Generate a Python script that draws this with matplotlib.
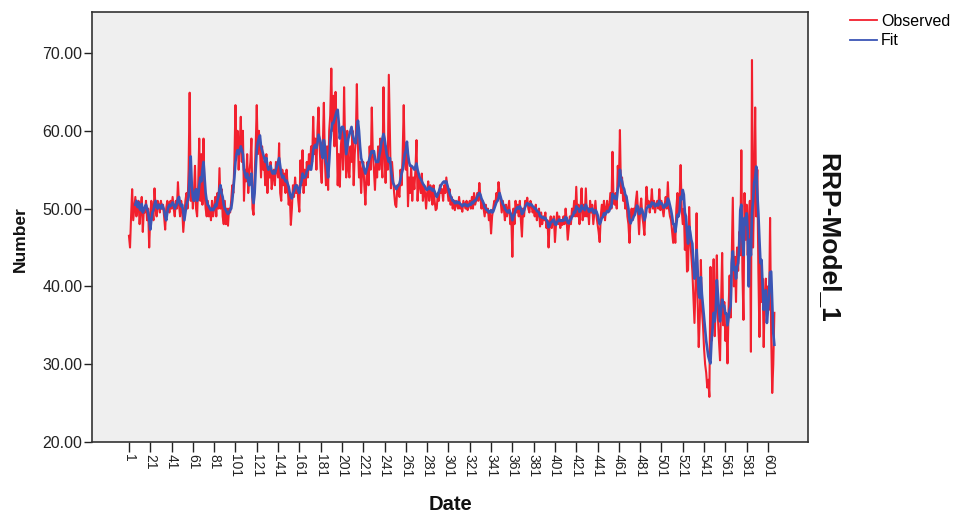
import numpy as np
import matplotlib
matplotlib.use("Agg")
import matplotlib.pyplot as plt
from matplotlib.ticker import FormatStrFormatter

plt.rcParams['font.family'] = ['Liberation Sans', 'DejaVu Sans']

observed = [
    46.5, 45, 49, 52.5, 48.5, 50, 51.5, 49, 50.5, 51, 48, 50, 51.5, 47, 50, 49.5, 51, 48.5, 50, 45,
    49, 51, 50, 48.5, 52.6, 50, 49, 51, 50.5, 49.5, 51, 50, 50.5, 49, 47.3, 50, 51, 50.5, 49.5, 51,
    50, 51.5, 50, 49, 51, 50, 53.4, 50.5, 49, 51, 50, 47, 49, 51, 52, 50, 55, 64.9, 51, 53,
    50, 52, 55.5, 50, 49, 53, 59, 51, 57, 50.5, 59, 52, 50, 49, 51, 49, 50, 48.5, 51, 49,
    50, 51.5, 49, 52, 50, 55.2, 50, 52.5, 49, 48, 51, 48, 50, 47.8, 50, 49.5, 51, 53, 52, 56,
    63.3, 57, 60, 55, 58, 61.8, 56, 60, 51, 55, 53.5, 57, 52, 54.6, 56, 59, 50, 49.2, 54, 58,
    63.3, 57, 60, 58, 54, 58, 55, 56, 53, 57, 52, 55, 54, 56, 52.5, 54, 55, 53, 56, 55,
    54, 58.4, 52, 51, 55, 53, 54.5, 52, 55, 53, 50.5, 52, 47.9, 50, 53, 51.5, 54, 52, 53, 51,
    49.6, 56.2, 53, 57.5, 52, 55, 53, 56, 54, 57, 55, 58, 56, 61.8, 57, 59, 55, 60, 63, 58,
    55, 53.3, 58, 63.6, 56, 53, 58, 52.4, 60, 62, 68, 60, 64.5, 58, 65, 60, 53, 57, 52.8, 58,
    60, 55, 65.6, 58, 54, 60, 55, 54, 58, 56, 60, 53, 57, 59, 66, 58, 54, 56, 52, 55,
    56, 53, 50.5, 54, 56, 53, 58, 55, 63, 57, 55, 52.4, 56, 54, 58, 55, 59, 56, 54, 65.6,
    57, 53.3, 58, 55, 67.2, 60, 52.6, 56, 54, 52, 50.5, 50.2, 53, 52, 51.5, 55, 53, 57, 63.3, 56,
    55, 58, 50.3, 54, 52, 55.5, 51, 54, 52.5, 55, 58.8, 51, 54, 53, 52, 54.5, 51, 53, 52, 50,
    52, 53.5, 51, 53, 52, 50.5, 53, 51, 49.8, 50, 52, 51, 53, 52, 52.5, 51, 53, 52, 54, 52.5,
    51, 52.5, 50.5, 51.5, 50, 51, 49.8, 51, 50.5, 50, 51.5, 50, 50.5, 49.6, 51, 50.5, 50, 51, 49.8, 50.5,
    51, 50, 51.5, 50, 52, 50.5, 51, 52, 51, 53.3, 51.5, 50, 51, 50, 49, 50.5, 49.5, 50, 48.5, 49.5,
    46.8, 49, 50, 51, 50.5, 52, 51, 53.4, 52, 51, 49.5, 51, 50, 48.5, 50.5, 49, 50, 51, 48, 49,
    43.8, 50, 48, 51, 49.5, 50.5, 49, 51, 48.5, 46.4, 50, 49, 51, 50.5, 51.4, 50, 49.5, 51, 50.5, 49.5,
    50, 49, 50.5, 48.5, 49.5, 50, 47.7, 49.5, 48, 49, 48.5, 49.5, 47.5, 48.5, 45, 48, 49, 47.5, 48.5, 49,
    45.7, 48, 49.5, 48, 49, 47.5, 48.5, 47.9, 49, 48, 50, 48.5, 46, 47.5, 49, 48, 50, 49, 51, 49,
    52.8, 49, 50.5, 48, 50, 52.6, 48.5, 50.5, 49, 52.6, 49, 50, 48, 51, 49.5, 50.5, 48, 49.5, 51, 49,
    48, 47, 45.7, 49, 50.5, 49, 51, 48.5, 50, 51, 49.5, 50, 52, 50, 57.3, 51, 50.5, 52, 50, 55.5,
    53, 60.1, 52, 54, 51, 52, 50, 51.5, 49, 48, 45.6, 49, 50, 48.5, 50, 49.5, 51, 52.2, 49.5, 46.7,
    50, 51.3, 49, 48, 46.6, 50, 52.8, 50.5, 51, 49.5, 50.5, 52.5, 50, 51, 49.5, 50.5, 51, 50, 52.5, 49.8,
    51, 50, 49, 50.5, 51.5, 50, 53.4, 50, 49, 48.5, 47, 45.6, 48, 45.6, 50, 52, 49, 51, 55.6, 50,
    48, 50, 44.7, 48, 41.9, 42.1, 50.2, 46, 44, 42, 38.6, 35.3, 40, 49.4, 38, 32.2, 36, 43.4, 37, 35,
    32, 30, 28.9, 27, 28, 25.8, 42.5, 33, 37, 43.5, 33.6, 38, 44, 36, 33, 30.5, 38, 44.3, 35, 38,
    33, 35, 30.1, 37, 41.4, 36, 44, 51.4, 40, 43.8, 38, 45, 42, 47, 44, 57.5, 42, 35.7, 52, 46,
    50.5, 44, 48, 51, 31.6, 69.1, 45, 52, 63, 49, 55, 42, 33.5, 43, 38, 41, 32.2, 39, 41, 35.5,
    40, 37, 48.8, 34, 26.3, 30, 36.6,
]

fit = [
    np.nan, np.nan, np.nan, np.nan, np.nan, np.nan, 50.5, 51, 50.2, 50.8, 50, 49.8, 50.6, 49.5, 49.8, 50.2, 50.5, 50, 49.5, 48.5,
    47.3, 48.5, 49.5, 49.8, 50.5, 51, 50.2, 50, 50.5, 50.3, 50, 50.5, 50.2, 49.8, 49, 48.5, 49.5, 50.2, 50.5, 50.3,
    50.5, 50.8, 50.5, 50, 50.3, 50.6, 51.2, 51.5, 50.6, 50.3, 50.5, 49.5, 48.5, 49.5, 50.5, 51, 51.5, 54, 56.7, 53,
    51.5, 51, 52, 52.5, 51, 51.5, 53, 54, 53.5, 55, 56, 54, 52, 51, 50.5, 50.3, 50, 49.8, 50, 49.8,
    50, 50.5, 50.3, 51, 51.5, 52.5, 53, 52, 51.5, 50.5, 50, 49.8, 49.5, 49.3, 49.5, 49.8, 50, 51, 52.5, 54,
    56, 57, 57.5, 57, 57.5, 58, 57.5, 57, 55, 54.5, 54, 54.5, 53.5, 53, 54, 54.5, 51.5, 50.7, 52, 55,
    57.6, 58.5, 59, 59.4, 58, 57.5, 57, 56.5, 56, 56.5, 55.5, 55, 55.2, 55.5, 54.8, 54.5, 54.8, 54.5, 55, 55.5,
    56, 56.5, 55.5, 54.5, 54, 54.2, 53.8, 53.5, 53.6, 53.2, 52.8, 52, 51.5, 51.3, 52, 52.3, 52.8, 53, 52.8, 52.3,
    52, 53, 53.5, 54.5, 54, 54, 54.2, 54.8, 55, 55.5, 55.2, 55, 56, 57.5, 58, 58.2, 57.8, 58.4, 59.5, 59,
    58.5, 57, 56.5, 58.8, 58, 56, 55.5, 54, 56, 58.5, 60, 61, 61, 61.5, 62, 62.5, 62.7, 61, 59, 60,
    60.5, 60.5, 60, 59, 57, 58, 59, 59.5, 60, 60.5, 59.5, 59, 58.5, 58.4, 60, 61.3, 60, 58, 56.5, 56,
    55.5, 55, 54.5, 55, 55.5, 56, 56.5, 57, 57.4, 57.2, 57.4, 56.5, 56, 56, 56, 56.8, 57.5, 58.5, 59, 59.6,
    59, 58, 57, 56.5, 56, 56.5, 55, 54, 53.3, 53, 52.8, 52.5, 52.8, 53, 53.2, 53.8, 54.5, 55, 56, 57,
    57.5, 58.6, 57, 56, 55.5, 55.5, 55.4, 55.2, 55, 55.4, 55.8, 55, 54.5, 54, 53.8, 53.5, 53.2, 53, 52.8, 52.5,
    52.4, 52.6, 52.8, 52.5, 52.6, 52.3, 52.5, 52.2, 51.8, 51.5, 51.8, 52.2, 52.6, 53, 53.2, 53.4, 53.5, 53.3, 53.5, 53,
    52.5, 52, 51.6, 51.3, 51, 51, 50.7, 50.7, 50.9, 50.7, 50.8, 50.6, 50.5, 50.3, 50.5, 50.6, 50.4, 50.5, 50.3, 50.4,
    50.6, 50.5, 50.8, 50.7, 51, 51, 51.2, 51.5, 51.8, 52, 51.8, 51.3, 51, 50.7, 50.2, 50, 49.8, 49.8, 49.5, 49.6,
    49.8, 49.5, 49.6, 50, 50.4, 50.8, 51, 51.3, 52, 51.5, 51, 50.6, 50.4, 50, 49.8, 49.6, 49.5, 49.8, 49.5, 49.2,
    48.5, 49, 49.3, 49.8, 50, 50.2, 50, 50.3, 50, 49.3, 49.5, 49.8, 50.2, 50.5, 50.7, 50.6, 50.4, 50.6, 50.5, 50.3,
    50.2, 50, 50, 49.7, 49.6, 49.5, 49, 49, 48.8, 48.9, 48.7, 48.8, 48.5, 48.3, 47.6, 47.8, 48.2, 48.3, 48.5, 48.6,
    48, 47.9, 48.3, 48.4, 48.6, 48.4, 48.5, 48.4, 48.6, 48.5, 48.9, 48.8, 48.2, 48.1, 48.5, 48.6, 49, 49.1, 49.6, 49.5,
    50.3, 50, 50, 49.6, 49.7, 50.4, 50, 50, 49.8, 50.5, 50.1, 50, 49.6, 49.9, 49.8, 50, 49.5, 49.4, 49.8, 49.6,
    49.2, 48.6, 48, 48.3, 48.8, 48.9, 49.4, 49.2, 49.4, 49.7, 49.6, 49.7, 50.2, 50.2, 51.9, 51.7, 51.3, 51.6, 51.2, 52.5,
    53, 55, 54, 53.5, 52.8, 52.5, 51.8, 51.6, 50.8, 50, 48.6, 48.1, 48.5, 48.6, 49, 49.2, 49.7, 50.4, 50.2, 49.3,
    49.4, 50, 49.8, 49.2, 48.5, 49, 50, 50.2, 50.4, 50.2, 50.3, 50.8, 50.6, 50.7, 50.3, 50.4, 50.6, 50.4, 51, 50.6,
    50.7, 50.5, 50.1, 50.2, 50.6, 50.4, 51.3, 51, 50.4, 49.8, 49, 48, 48, 47, 48, 49.2, 49, 49.6, 51.5, 51.2,
    52.4, 51.8, 49.5, 49, 47, 45.5, 47.7, 47, 46, 45.5, 43, 41, 41.5, 44.7, 42, 39, 38.5, 41.2, 39, 37.5,
    36, 34.4, 33, 32, 31, 30.5, 30.1, 33, 34.5, 36.6, 35.5, 37, 40.8, 39, 37, 35.5, 37, 38.3, 37.5, 37.5,
    36.5, 36.5, 35, 36, 37, 37.5, 43, 44.5, 42.1, 42.5, 41, 42.5, 43, 45, 49.8, 50.5, 46, 44, 48.8, 48,
    49.4, 47, 40, 46, 44, 49.4, 51, 53.3, 54, 55.4, 52, 49.4, 46, 43, 43.4, 40, 37, 37.7, 39.5, 35.3,
    37, 39, 41.8, 41.9, 38, 34, 32.5,
]

x_ticks = list(range(1, 602, 20))
x_tick_labels = [str(v) for v in x_ticks]
y_ticks = [20, 30, 40, 50, 60, 70]

W, H = 954, 516
fig = plt.figure(figsize=(W / 100, H / 100), dpi=100)
fig.patch.set_facecolor('white')
ax = fig.add_axes([92 / W, 1 - 442 / H, (808 - 92) / W, (442 - 12) / H])
ax.set_facecolor('#EFEFEF')

t_obs = np.arange(1, len(observed) + 1)
t_fit = np.arange(1, len(fit) + 1)
ax.plot(t_obs, observed, color='#F2202E', lw=1.5, label='Observed', zorder=2)
ax.plot(t_fit, fit, color='#3B55B5', lw=1.9, label='Fit', zorder=3)

ax.set_xlim(-33.7, 638.6)
ax.set_ylim(20, 75.27)
ax.set_xticks(x_ticks)
ax.set_xticklabels(x_tick_labels, rotation=-90, fontsize=10, color='#222222')
ax.set_yticks(y_ticks)
ax.yaxis.set_major_formatter(FormatStrFormatter('%.2f'))
ax.tick_params(axis='y', labelsize=11.5, colors='#222222', length=6, width=1, direction='out', pad=1)
ax.tick_params(axis='x', length=7, width=1, direction='out', pad=2, colors='#222222')

for s in ax.spines.values():
    s.set_color('#333333')
    s.set_linewidth(1.2)

fig.text(20 / W, 1 - 239 / H, 'Number', rotation=90, ha='center', va='center',
         fontsize=12.5, fontweight='bold', color='#111111')
fig.text(451 / W, 1 - 504 / H, 'Date', ha='center', va='center',
         fontsize=14.5, fontweight='bold', color='#111111')
fig.text(828 / W, 1 - 238 / H, 'RRP-Model_1', rotation=-90, ha='center', va='center',
         fontsize=19, fontweight='bold', color='#111111')

leg = fig.legend(loc='upper left', bbox_to_anchor=(850 / W, 1 - 14 / H), frameon=False,
                 fontsize=11.5, handlelength=1.7, handletextpad=0.25, labelspacing=0.26,
                 borderpad=0, borderaxespad=0)
for ln in leg.get_lines():
    ln.set_linewidth(1.3)

fig.savefig('out.png', dpi=100)
